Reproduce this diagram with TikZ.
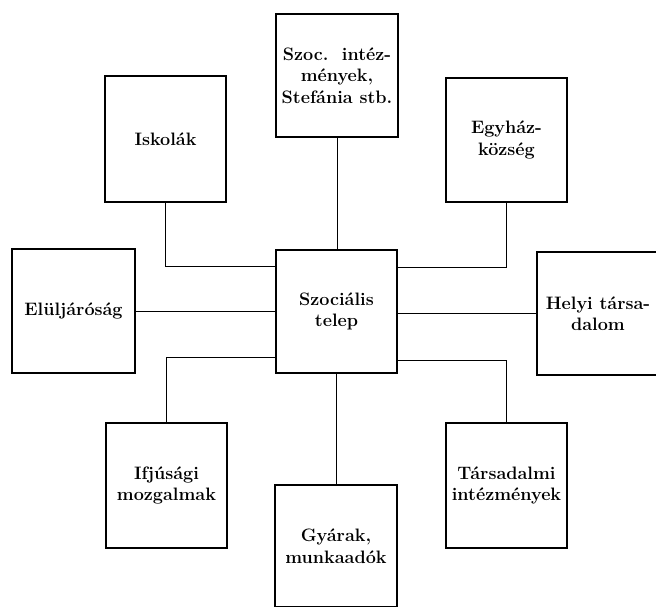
\documentclass[tikz,border=0pt]{standalone}
\usepackage{fontspec}
\newlength{\du}
\setlength{\du}{1pt}
\tikzset{
  unit/.style={draw, line width=2.8\du, fill=white, align=center, inner sep=0pt,
    font=\fontsize{18}{21.5}\selectfont\bfseries},
  link/.style={line width=0.9\du}
}

\begin{document}
\begin{tikzpicture}[x=\du,y=-\du]
\useasboundingbox (0,0) rectangle (656,607);
% centre
\node[unit, minimum width=121\du, minimum height=123\du] (telep) at (336.5,311.5){Szociális\\telep};
% upper row
\node[unit, minimum width=122\du, minimum height=123\du] (szoc) at (337,75.5){Szoc.\ \ intéz-\\mények,\\Stefánia stb.};
\node[unit, minimum width=121\du, minimum height=126\du] (iskolak) at (165.5,139){Iskolák};
\node[unit, minimum width=121\du, minimum height=124\du] (egyhaz) at (506.5,140){Egyház-\\község};
% middle row
\node[unit, minimum width=123\du, minimum height=124\du] (eluljar) at (73.5,311){Elüljáróság};
\node[unit, minimum width=122\du, minimum height=123\du] (helyi) at (598,313.5){Helyi társa-\\dalom};
% lower row
\node[unit, minimum width=121\du, minimum height=125\du] (ifjusag) at (166.5,485.5){Ifjúsági\\mozgalmak};
\node[unit, minimum width=122\du, minimum height=122\du] (gyarak) at (336,546){Gyárak,\\munkaadók};
\node[unit, minimum width=121\du, minimum height=125\du] (tarsad) at (506.5,485.5){Társadalmi\\intézmények};
% connections
\draw[link] (szoc.south) -- (szoc.south |- telep.north);
\draw[link] (iskolak.south) |- ([yshift=45.5\du]telep.west);
\draw[link] (egyhaz.south) |- ([yshift=44.5\du]telep.east);
\draw[link] (eluljar.east) -- (eluljar.east -| telep.west);
\draw[link] (telep.east |- helyi.west) -- (helyi.west);
\draw[link] (ifjusag.north) |- ([yshift=-45.5\du]telep.west);
\draw[link] (tarsad.north) |- ([yshift=-48.5\du]telep.east);
\draw[link] (telep.south) -- (telep.south |- gyarak.north);
\end{tikzpicture}
\end{document}
